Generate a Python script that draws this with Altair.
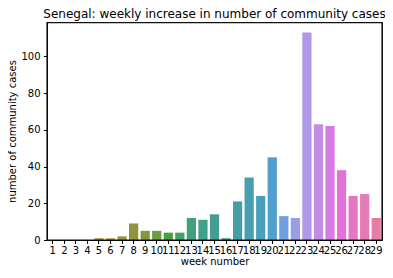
import math
import colorsys
import altair as alt
import pandas as pd

weeks = list(range(1, 30))
cases = [0, 0, 0, 0, 1, 1, 2, 9, 5, 5, 4, 4, 12, 11, 14, 1, 21, 34, 24, 45,
         13, 12, 113, 63, 62, 38, 24, 25, 12]

# --- seaborn-like husl palette (desaturated 0.75) ---
M = [[3.240969941904521, -1.537383177570093, -0.498610760293],
     [-0.96924363628087, 1.87596750150772, 0.041555057407175],
     [0.055630079696993, -0.20397695888897, 1.056971514242878]]
refY, refU, refV = 1.0, 0.19783000664283, 0.46831999493879
kappa, eps = 903.2962962, 0.0088564516


def max_chroma(L, H):
    hrad = math.radians(H)
    sinH, cosH = math.sin(hrad), math.cos(hrad)
    sub1 = (L + 16) ** 3 / 1560896.0
    sub2 = sub1 if sub1 > eps else L / kappa
    result = float("inf")
    for m1, m2, m3 in M:
        top = (0.99915 * m1 + 1.05122 * m2 + 1.14460 * m3) * sub2
        rb = 0.86330 * m3 - 0.17266 * m2
        lb = 0.12949 * m3 - 0.38848 * m1
        bottom = (rb * sinH + lb * cosH) * sub2
        for t in (0.0, 1.0):
            C = L * (top - 1.05122 * t) / (bottom + 0.17266 * sinH * t)
            if 0 < C < result:
                result = C
    return result


def f_inv(t):
    return refY * t ** 3 if t ** 3 > eps else refY * (116 * t - 16) / kappa


def from_linear(c):
    return 12.92 * c if c <= 0.0031308 else 1.055 * c ** (1 / 2.4) - 0.055


def husl_to_rgb(h, s, l):
    C = max_chroma(l, h) / 100.0 * s
    hr = math.radians(h)
    U, V = math.cos(hr) * C, math.sin(hr) * C
    L = l
    varY = f_inv((L + 16) / 116.0)
    varU = U / (13 * L) + refU
    varV = V / (13 * L) + refV
    Y = varY * refY
    X = 0 - (9 * Y * varU) / ((varU - 4.0) * varV - varU * varV)
    Z = (9 * Y - 15 * varV * Y - varV * X) / (3 * varV)
    rgb = [from_linear(r[0] * X + r[1] * Y + r[2] * Z) for r in M]
    return [min(1, max(0, c)) for c in rgb]


n = len(weeks)
hexes = []
for i in range(n):
    h = ((i / n) + 0.01) % 1 * 359
    r, g, b = husl_to_rgb(h, 0.9 * 99, 0.65 * 99)
    hh, ll, ss = colorsys.rgb_to_hls(r, g, b)
    r, g, b = colorsys.hls_to_rgb(hh, ll, ss * 0.75)
    hexes.append("#%02x%02x%02x" % tuple(int(round(c * 255)) for c in (r, g, b)))

df = pd.DataFrame({"week": weeks, "cases": cases})

font = "DejaVu Sans"
W, H = 335, 218
bars = alt.Chart(df).mark_bar().encode(
    x=alt.X("week:O", sort=weeks,
            scale=alt.Scale(paddingInner=0.2, paddingOuter=0.1),
            axis=alt.Axis(title="week number", labelAngle=0, labelOverlap=False,
                          labelFlush=False, tickSize=3.5, labelPadding=2,
                          titleX=W / 2, titleY=21, titleBaseline="middle",
                          titleAlign="center",
                          domain=True, domainColor="black")),
    y=alt.Y("cases:Q", scale=alt.Scale(domain=[0, 118.65], nice=False, zero=True),
            axis=alt.Axis(title="number of community cases", values=[0, 20, 40, 60, 80, 100],
                          grid=False, tickSize=3.5, labelPadding=3.5,
                          titleX=-35, titleY=H / 2, titleAngle=-90,
                          titleBaseline="middle", titleAlign="center",
                          domain=True, domainColor="black")),
    color=alt.Color("week:O", scale=alt.Scale(domain=weeks, range=hexes), legend=None),
)

frame = alt.Chart(pd.DataFrame({"f": [0]})).mark_rect(
    fillOpacity=0, stroke="#111111", strokeWidth=1.2
).encode(x=alt.value(0), x2=alt.value(W), y=alt.value(0.6), y2=alt.value(H))

chart = alt.layer(bars, frame).properties(
    width=W, height=H,
    title=alt.TitleParams("Senegal: weekly increase in number of community cases",
                          fontSize=12, font=font, fontWeight="normal", color="black",
                          offset=1.5),
    autosize=alt.AutoSizeParams(type="none"),
    padding={"left": 39, "top": 14, "right": 3, "bottom": 26},
).configure_view(stroke="#111111", strokeWidth=1).configure_axis(
    labelFont=font, titleFont=font, labelFontSize=10, titleFontSize=10,
    labelColor="black", titleColor="black", titleFontWeight="normal",
    tickColor="black", tickWidth=1,
)

chart.save("out.html", embed_options={"renderer": "svg", "actions": False})
